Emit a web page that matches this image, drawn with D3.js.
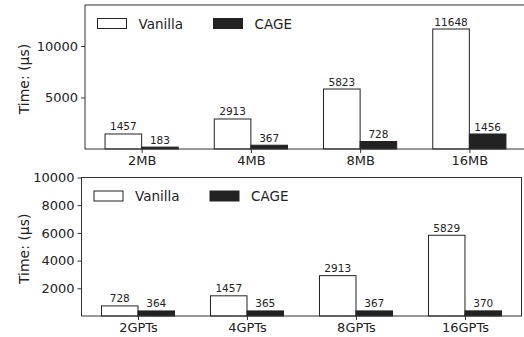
<!DOCTYPE html>
<html>
<head>
<meta charset="utf-8">
<script src="https://cdn.jsdelivr.net/npm/d3@7"></script>
<style>
  body { margin: 0; background: #fff; }
  svg { display: block; font-family: "DejaVu Sans", sans-serif; }
</style>
</head>
<body>
<div id="chart"></div>
<script>
const width = 524;
const height = 337;

const seriesNames = ['Vanilla', 'CAGE'];

const topCategories = ['2MB', '4MB', '8MB', '16MB'];
const topVanilla = [1457, 2913, 5823, 11648];
const topCage = [183, 367, 728, 1456];
const topTicks = [5000, 10000];

const bottomCategories = ['2GPTs', '4GPTs', '8GPTs', '16GPTs'];
const bottomVanilla = [728, 1457, 2913, 5829];
const bottomCage = [364, 365, 367, 370];
const bottomTicks = [2000, 4000, 6000, 8000, 10000];

const ink = '#222222';
const barW = 0.335;
const xPad = barW + 0.05 * (3 + 2 * barW);

const svg = d3.select('#chart')
  .append('svg')
  .attr('width', width)
  .attr('height', height);

function panel(cfg) {
  const g = svg.append('g');

  const x = d3.scaleLinear()
    .domain([-xPad, cfg.categories.length - 1 + xPad])
    .range([cfg.left, cfg.right]);
  const y = d3.scaleLinear()
    .domain([0, cfg.yMax])
    .range([cfg.bottom, cfg.top]);

  const rows = cfg.categories.map((c, i) => ({ c, i, v: cfg.vanilla[i], k: cfg.cage[i] }));

  // bars
  const bars = [];
  rows.forEach(r => {
    bars.push({ x0: r.i - barW, v: r.v, fill: '#fff' });
    bars.push({ x0: r.i, v: r.k, fill: ink });
  });

  g.selectAll('.bar')
    .data(bars)
    .enter()
    .append('rect')
    .attr('x', d => x(d.x0))
    .attr('y', d => y(d.v))
    .attr('width', d => x(d.x0 + barW) - x(d.x0))
    .attr('height', d => y(0) - y(d.v))
    .attr('fill', d => d.fill)
    .attr('stroke', ink)
    .attr('stroke-width', 1);

  g.selectAll('.val')
    .data(bars)
    .enter()
    .append('text')
    .attr('x', d => x(d.x0 + barW / 2))
    .attr('y', d => y(d.v) - 3.5)
    .attr('text-anchor', 'middle')
    .attr('font-size', 10.5)
    .attr('fill', ink)
    .text(d => d.v);

  // frame
  g.append('rect')
    .attr('x', cfg.left)
    .attr('y', cfg.top)
    .attr('width', cfg.right - cfg.left)
    .attr('height', cfg.bottom - cfg.top)
    .attr('fill', 'none')
    .attr('stroke', '#333')
    .attr('stroke-width', 1);

  // y axis
  const yAxis = g.append('g')
    .attr('transform', `translate(${cfg.left},0)`)
    .call(d3.axisLeft(y).tickValues(cfg.ticks).tickFormat(d3.format('d')).tickSize(4).tickPadding(3));
  yAxis.select('.domain').remove();
  yAxis.selectAll('line').attr('stroke', '#333');
  yAxis.selectAll('text')
    .attr('font-size', 13)
    .attr('font-family', '"DejaVu Sans", sans-serif')
    .attr('fill', ink);

  // x axis
  const xAxis = g.append('g')
    .attr('transform', `translate(0,${cfg.bottom})`)
    .call(d3.axisBottom(x)
      .tickValues(rows.map(r => r.i))
      .tickFormat(i => cfg.categories[i])
      .tickSize(4)
      .tickPadding(3));
  xAxis.select('.domain').remove();
  xAxis.selectAll('line').attr('stroke', '#333');
  xAxis.selectAll('text')
    .attr('font-size', 13)
    .attr('font-family', '"DejaVu Sans", sans-serif')
    .attr('fill', ink);

  // y label
  g.append('text')
    .attr('transform', `translate(29,${(cfg.top + cfg.bottom) / 2 + 2}) rotate(-90)`)
    .attr('text-anchor', 'middle')
    .attr('font-size', 14)
    .attr('fill', ink)
    .text('Time: (µs)');

  // legend
  const lx = cfg.left + 12.5;
  const ly = cfg.top + cfg.legendDy;
  seriesNames.forEach((name, i) => {
    const ox = lx + i * 116;
    g.append('rect')
      .attr('x', ox)
      .attr('y', ly)
      .attr('width', 29)
      .attr('height', 10)
      .attr('fill', i === 0 ? '#fff' : ink)
      .attr('stroke', ink)
      .attr('stroke-width', 1);
    g.append('text')
      .attr('x', ox + 41)
      .attr('y', ly + 10)
      .attr('font-size', 13.5)
      .attr('fill', ink)
      .text(name);
  });
}

panel({
  categories: topCategories, vanilla: topVanilla, cage: topCage, ticks: topTicks,
  yMax: 13978, left: 85, right: 526, top: 5, bottom: 149, legendDy: 13.5
});

panel({
  categories: bottomCategories, vanilla: bottomVanilla, cage: bottomCage, ticks: bottomTicks,
  yMax: 10000, left: 81.5, right: 521.5, top: 177.5, bottom: 316, legendDy: 13.5
});
</script>
</body>
</html>
